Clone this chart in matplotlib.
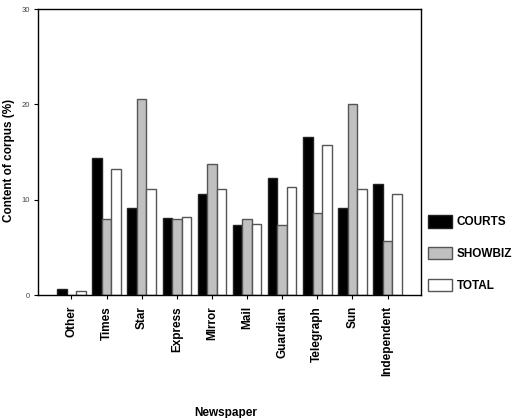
import matplotlib.pyplot as plt
import numpy as np
from matplotlib.patches import Patch

# Values (% of corpus)
newspapers = ['Other', 'Times', 'Star', 'Express', 'MIrror', 'Mail',
              'Guardian', 'Telegraph', 'Sun', 'Independent']
courts = [0.6, 14.4, 9.1, 8.05, 10.6, 7.3, 12.3, 16.55, 9.1, 11.6]
showbiz = [0.0, 7.95, 20.55, 8.0, 13.7, 7.95, 7.35, 8.55, 20.0, 5.65]
total = [0.45, 13.2, 11.15, 8.15, 11.15, 7.45, 11.35, 15.75, 11.1, 10.55]
series_names = ['COURTS', 'SHOWBIZ', 'TOTAL']


def plot_figure():
    plt.rcParams['font.family'] = ['Liberation Sans', 'DejaVu Sans']
    fig = plt.figure(figsize=(5.12, 4.18), dpi=100, facecolor='white')
    ax = fig.add_axes([38 / 512, 1 - 295 / 418, 383 / 512, 286 / 418])

    x = np.arange(len(newspapers))
    w = 0.27
    styles = [
        dict(facecolor='black', edgecolor='#222222'),
        dict(facecolor='#c0c0c0', edgecolor='#555555'),
        dict(facecolor='white', edgecolor='#555555'),
    ]
    for k, vals in enumerate([courts, showbiz, total]):
        ax.bar(x + (k - 1) * w, vals, width=w, linewidth=1.0, **styles[k])

    ax.set_xlim(-0.95, 9.95)
    ax.set_ylim(0, 30)
    ax.set_yticks([0, 10, 20, 30])
    ax.set_xticks(x)
    ax.set_xticklabels(newspapers, rotation=90, fontsize=8.5, fontweight='bold')
    ax.tick_params(axis='y', labelsize=5.5, labelcolor='#444444', length=3, pad=3)
    ax.tick_params(axis='x', length=3, pad=5)

    for sp in ax.spines.values():
        sp.set_linewidth(1.0)
        sp.set_color('black')

    ax.set_ylabel('Content of corpus (%)', fontsize=8.5, fontweight='bold')
    ax.yaxis.set_label_coords(-0.06, 0.47)
    ax.set_xlabel('Newspaper', fontsize=8.5, fontweight='bold')
    ax.xaxis.set_label_coords(0.49, -0.39)

    handles = [Patch(label=n, linewidth=1.0, **s) for n, s in zip(series_names, styles)]
    fig.legend(handles=handles, loc='upper left',
               bbox_to_anchor=(428 / 512, 1 - 215 / 418),
               frameon=False, prop={'weight': 'bold', 'size': 8.5},
               handlelength=2.03, handleheight=1.27, handletextpad=0.4,
               labelspacing=1.57, borderpad=0, borderaxespad=0)

    fig.savefig('out.png', dpi=100)


if __name__ == '__main__':
    plot_figure()
